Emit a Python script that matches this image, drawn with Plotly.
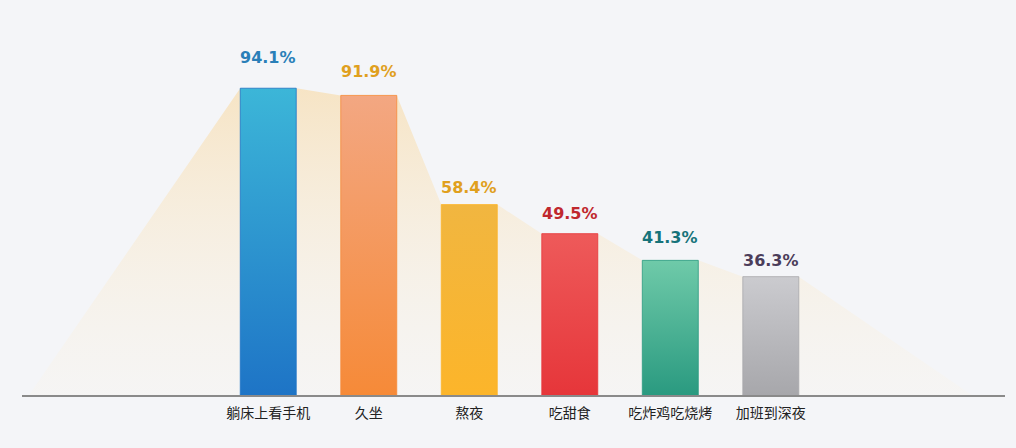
import plotly.graph_objects as go

# Data
categories = ["躺床上看手机", "久坐", "熬夜", "吃甜食", "吃炸鸡吃烧烤", "加班到深夜"]
values = [94.1, 91.9, 58.4, 49.5, 41.3, 36.3]
labels = ["94.1%", "91.9%", "58.4%", "49.5%", "41.3%", "36.3%"]

# Styling
bar_top = ["#3cb6d8", "#f3a782", "#f1b640", "#ee5a5a", "#6fcaa9", "#cbcbcf"]
bar_bottom = ["#1e74c6", "#f68a38", "#fcb52a", "#e6363a", "#2a9a80", "#a7a7ab"]
label_colors = ["#2a7fb8", "#e0a01e", "#e0a01e", "#c0282e", "#16737a", "#4b3d5a"]
label_shift = [31, 24, 17, 20, 23, 16]
bar_w = 0.557

fig = go.Figure()

# soft "mountain" glow behind the bars, following bar tops
gx = [-2.38]
gy = [0]
for i, v in enumerate(values):
    gx += [i - bar_w / 2, i + bar_w / 2]
    gy += [v, v]
gx.append(7.0)
gy.append(0)
fig.add_trace(go.Scatter(
    x=gx, y=gy, mode="lines", line=dict(width=0),
    fill="tozeroy",
    fillgradient=dict(type="vertical",
                      colorscale=[[0, "rgba(250,244,232,0.25)"],
                                  [1, "rgba(247,224,184,0.8)"]]),
    hoverinfo="skip", showlegend=False))

# bars drawn as filled rectangles so they can carry a vertical gradient
for i, v in enumerate(values):
    fig.add_trace(go.Scatter(
        x=[i - bar_w / 2, i + bar_w / 2, i + bar_w / 2, i - bar_w / 2, i - bar_w / 2],
        y=[0, 0, v, v, 0],
        mode="lines", line=dict(width=0.8, color=bar_bottom[i]),
        fill="toself",
        fillgradient=dict(type="vertical",
                          colorscale=[[0, bar_bottom[i]], [1, bar_top[i]]]),
        name=categories[i], showlegend=False))

# value labels above bars
for i, v in enumerate(values):
    fig.add_annotation(x=i, y=v, text=labels[i], showarrow=False,
                       yanchor="middle", yshift=label_shift[i],
                       font=dict(family="DejaVu Sans", size=16,
                                 color=label_colors[i], weight="bold"))

fig.update_layout(
    width=1016, height=448,
    margin=dict(l=22, r=11, t=69, b=53),
    paper_bgcolor="#f4f5f8",
    plot_bgcolor="#f4f5f8",
    showlegend=False,
    xaxis=dict(range=[-2.45, 7.33], tickvals=list(range(len(categories))),
               ticktext=categories, showgrid=False, zeroline=False,
               showline=True, linecolor="#8a8a8a", linewidth=1.5,
               ticks="", ticklabelstandoff=4,
               tickfont=dict(family="Noto Sans CJK SC", size=14, color="#222222")),
    yaxis=dict(range=[0, 100], visible=False, showgrid=False, zeroline=False),
)

# drop the default page margin so the figure sits at the window corner
fig.write_html("out.html", config={"displayModeBar": False},
               post_script="document.body.style.margin='0';")
